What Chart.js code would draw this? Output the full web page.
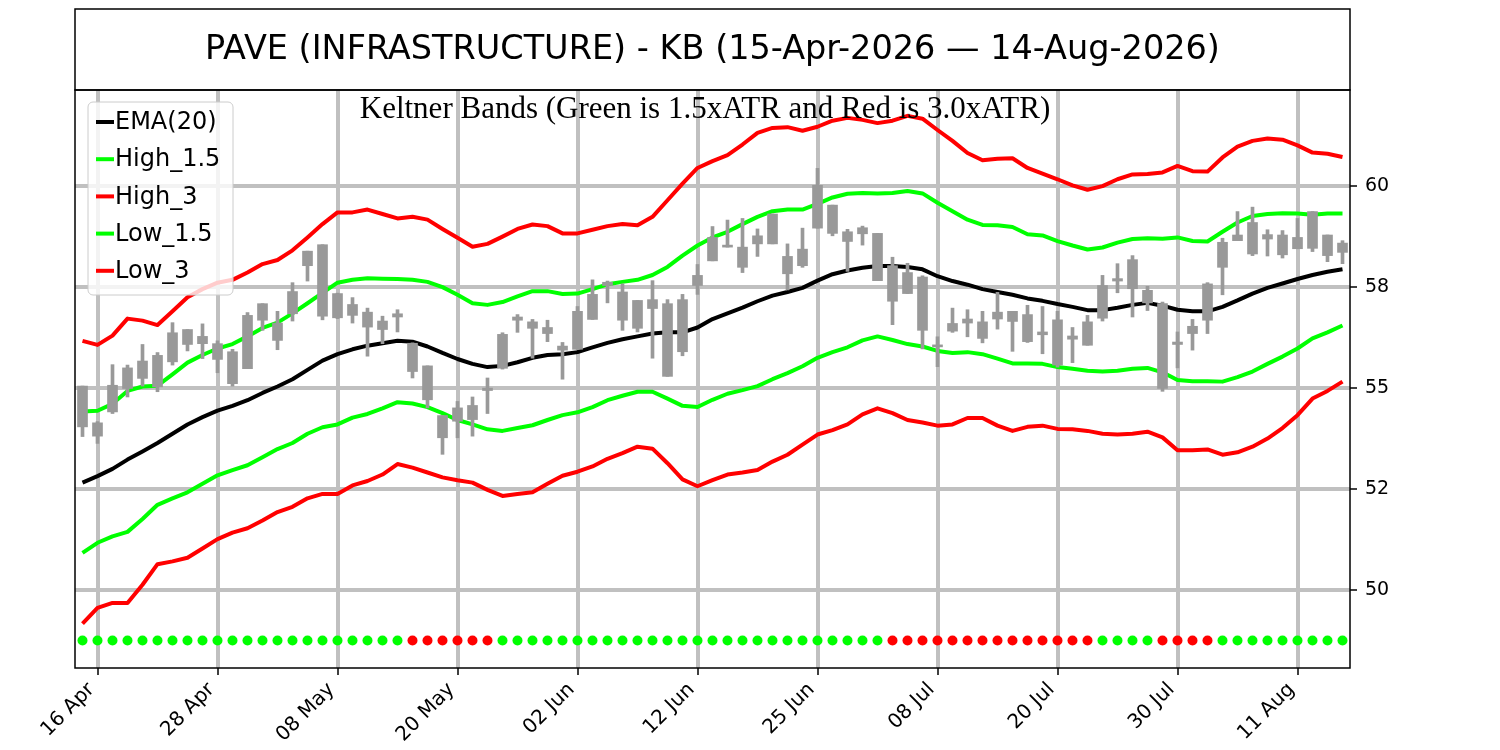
<!DOCTYPE html>
<html>
<head>
<meta charset="utf-8">
<title>PAVE Keltner Bands</title>
<script src="https://cdn.jsdelivr.net/npm/chart.js@4.4.1/dist/chart.umd.min.js"></script>
<style>
  html, body { margin: 0; padding: 0; background: #fff; }
  #wrap { width: 1500px; height: 750px; }
</style>
</head>
<body>
<div id="wrap"><canvas id="kbChart" width="1500" height="750"></canvas></div>
<script>
// trading days, 15 Apr 2026 .. 14 Aug 2026
const dates = [
  '15 Apr', '16 Apr', '17 Apr', '20 Apr', '21 Apr', '22 Apr', '23 Apr', '24 Apr', '27 Apr', '28 Apr', '29 Apr', '30 Apr',
  '01 May', '04 May', '05 May', '06 May', '07 May', '08 May', '11 May', '12 May', '13 May', '14 May', '15 May',
  '18 May', '19 May', '20 May', '21 May', '22 May', '26 May', '27 May', '28 May', '29 May',
  '01 Jun', '02 Jun', '03 Jun', '04 Jun', '05 Jun', '08 Jun', '09 Jun', '10 Jun', '11 Jun', '12 Jun',
  '15 Jun', '16 Jun', '17 Jun', '18 Jun', '22 Jun', '23 Jun', '24 Jun', '25 Jun', '26 Jun', '29 Jun', '30 Jun',
  '01 Jul', '02 Jul', '06 Jul', '07 Jul', '08 Jul', '09 Jul', '10 Jul', '13 Jul', '14 Jul', '15 Jul', '16 Jul', '17 Jul',
  '20 Jul', '21 Jul', '22 Jul', '23 Jul', '24 Jul', '27 Jul', '28 Jul', '29 Jul', '30 Jul', '31 Jul',
  '03 Aug', '04 Aug', '05 Aug', '06 Aug', '07 Aug', '10 Aug', '11 Aug', '12 Aug', '13 Aug', '14 Aug'
];

// candles (all drawn grey, so only the body extent is kept)
const high = [
  55.05, 54.17, 55.58, 55.57, 56.08, 55.88, 56.62, 56.45, 56.59, 56.17, 55.96, 56.87, 57.09, 56.90, 57.61, 58.39, 58.55,
  57.35, 57.24, 56.98, 56.78, 56.94, 56.12, 55.55, 54.32, 54.67, 54.78, 55.25, 56.37, 56.82, 56.70, 56.68, 56.13, 57.02,
  57.68, 57.65, 57.58, 57.17, 57.66, 57.19, 57.32, 58.06, 59.00, 59.16, 59.20, 58.94, 59.31, 58.57, 58.96, 60.44, 59.53,
  58.93, 59.01, 58.83, 58.24, 58.09, 57.78, 56.27, 56.98, 56.94, 56.90, 57.37, 56.90, 57.05, 57.02, 56.90, 56.50, 56.80,
  57.79, 58.08, 58.28, 57.52, 57.13, 56.39, 56.70, 57.61, 58.71, 59.37, 59.48, 58.92, 58.90, 59.20, 59.37, 58.79, 58.65
];
const low = [
  53.80, 53.63, 54.37, 54.78, 55.05, 54.91, 55.57, 55.92, 55.73, 55.38, 55.05, 55.48, 56.43, 55.95, 56.66, 57.65, 56.69,
  56.72, 56.61, 55.79, 56.10, 56.39, 55.25, 54.51, 53.36, 53.77, 53.81, 54.37, 55.47, 56.38, 55.74, 56.15, 55.22, 55.96,
  56.70, 57.11, 56.43, 56.39, 55.74, 55.29, 55.80, 57.32, 58.15, 58.49, 57.86, 58.26, 58.57, 57.43, 57.99, 58.96, 58.77,
  57.89, 58.54, 57.66, 56.57, 57.34, 55.97, 55.53, 56.38, 56.27, 56.12, 56.46, 55.91, 56.13, 55.85, 55.52, 55.63, 56.06,
  56.66, 57.36, 56.76, 56.92, 54.92, 55.50, 55.94, 56.35, 57.31, 58.65, 58.28, 58.27, 58.22, 58.45, 58.38, 58.13, 58.08
];
const bodyTop = [
  55.05, 54.14, 55.07, 55.50, 55.67, 55.81, 56.37, 56.45, 56.28, 56.10, 55.90, 56.80, 57.09, 56.61, 57.39, 58.39, 58.55,
  57.34, 57.07, 56.88, 56.66, 56.84, 56.11, 55.55, 54.32, 54.51, 54.57, 55.00, 56.33, 56.76, 56.64, 56.50, 56.04, 56.90,
  57.32, 57.62, 57.38, 57.17, 57.19, 57.09, 57.19, 57.79, 58.73, 58.54, 58.49, 58.77, 59.31, 58.26, 58.44, 60.02, 59.53,
  58.87, 58.97, 58.83, 58.03, 57.86, 57.75, 56.07, 56.60, 56.71, 56.64, 56.88, 56.90, 56.82, 56.39, 56.69, 56.29, 56.64,
  57.54, 57.71, 58.18, 57.42, 57.09, 56.14, 56.53, 57.58, 58.61, 58.79, 59.10, 58.80, 58.79, 58.73, 59.37, 58.79, 58.59
];
const bodyBottom = [
  54.04, 53.81, 54.41, 54.99, 55.24, 55.03, 55.65, 56.08, 56.10, 55.71, 55.11, 55.48, 56.68, 56.18, 56.84, 58.03, 56.78,
  56.74, 56.80, 56.51, 56.45, 56.76, 55.41, 54.71, 53.77, 54.18, 54.22, 54.94, 55.49, 56.68, 56.48, 56.35, 55.94, 55.96,
  56.70, 57.54, 56.68, 56.48, 56.97, 55.29, 55.90, 57.54, 58.15, 58.49, 57.99, 58.57, 58.57, 57.83, 58.03, 58.96, 58.83,
  58.63, 58.82, 57.66, 57.15, 57.34, 56.43, 56.02, 56.41, 56.61, 56.23, 56.71, 56.65, 56.15, 56.32, 55.57, 56.21, 56.06,
  56.73, 57.65, 57.46, 57.11, 54.99, 56.08, 56.35, 56.68, 57.99, 58.65, 58.32, 58.69, 58.30, 58.45, 58.46, 58.28, 58.36
];

const ema20 = [
  52.66, 52.82, 53.00, 53.23, 53.43, 53.64, 53.87, 54.10, 54.28, 54.44, 54.56, 54.70, 54.88, 55.04, 55.22, 55.45, 55.68,
  55.84, 55.96, 56.05, 56.11, 56.17, 56.15, 56.03, 55.87, 55.72, 55.60, 55.52, 55.55, 55.64, 55.75, 55.82, 55.84, 55.89,
  56.01, 56.12, 56.21, 56.28, 56.35, 56.38, 56.38, 56.50, 56.71, 56.85, 56.99, 57.15, 57.29, 57.38, 57.48, 57.66, 57.82,
  57.91, 57.98, 58.02, 58.02, 58.00, 57.94, 57.77, 57.65, 57.56, 57.45, 57.38, 57.31, 57.22, 57.16, 57.08, 57.01, 56.93,
  56.93, 56.99, 57.06, 57.11, 57.04, 56.94, 56.90, 56.90, 57.01, 57.17, 57.34, 57.48, 57.59, 57.70, 57.80, 57.88, 57.94
];
const high15 = [
  54.42, 54.44, 54.61, 54.93, 55.04, 55.06, 55.34, 55.63, 55.82, 55.98, 56.09, 56.28, 56.49, 56.62, 56.85, 57.10, 57.36,
  57.61, 57.68, 57.72, 57.71, 57.70, 57.68, 57.63, 57.50, 57.31, 57.10, 57.06, 57.13, 57.27, 57.40, 57.40, 57.33, 57.34,
  57.45, 57.57, 57.63, 57.68, 57.80, 58.00, 58.28, 58.53, 58.73, 58.87, 59.06, 59.24, 59.38, 59.42, 59.42, 59.56, 59.72,
  59.81, 59.83, 59.82, 59.83, 59.88, 59.82, 59.59, 59.38, 59.17, 59.04, 59.03, 58.99, 58.81, 58.78, 58.64, 58.53, 58.43,
  58.48, 58.60, 58.69, 58.71, 58.70, 58.73, 58.64, 58.63, 58.87, 59.10, 59.26, 59.31, 59.33, 59.32, 59.29, 59.32, 59.32
];
const high30 = [
  56.17, 56.07, 56.30, 56.72, 56.67, 56.56, 56.90, 57.25, 57.45, 57.61, 57.68, 57.86, 58.07, 58.17, 58.41, 58.73, 59.06,
  59.35, 59.35, 59.42, 59.31, 59.20, 59.24, 59.17, 58.94, 58.72, 58.50, 58.57, 58.75, 58.94, 59.05, 59.01, 58.83, 58.83,
  58.92, 59.01, 59.06, 59.03, 59.24, 59.65, 60.06, 60.45, 60.62, 60.77, 61.03, 61.32, 61.44, 61.46, 61.37, 61.47, 61.62,
  61.69, 61.64, 61.56, 61.62, 61.74, 61.67, 61.39, 61.12, 60.82, 60.64, 60.68, 60.69, 60.45, 60.31, 60.17, 60.02, 59.91,
  60.00, 60.17, 60.29, 60.30, 60.34, 60.50, 60.37, 60.36, 60.71, 60.98, 61.12, 61.18, 61.15, 61.01, 60.83, 60.80, 60.72
];
const low15 = [
  50.92, 51.17, 51.33, 51.44, 51.76, 52.11, 52.27, 52.42, 52.63, 52.84, 52.97, 53.09, 53.29, 53.49, 53.64, 53.87, 54.03,
  54.10, 54.27, 54.36, 54.50, 54.65, 54.62, 54.53, 54.38, 54.21, 54.10, 53.98, 53.94, 54.01, 54.08, 54.21, 54.33, 54.40,
  54.53, 54.70, 54.81, 54.91, 54.91, 54.74, 54.56, 54.53, 54.71, 54.86, 54.95, 55.05, 55.22, 55.37, 55.54, 55.75, 55.89,
  56.01, 56.18, 56.28, 56.19, 56.09, 56.03, 55.92, 55.87, 55.89, 55.84, 55.73, 55.61, 55.61, 55.60, 55.52, 55.48, 55.43,
  55.41, 55.43, 55.48, 55.50, 55.39, 55.20, 55.17, 55.17, 55.16, 55.27, 55.41, 55.60, 55.78, 55.98, 56.23, 56.38, 56.55
];
const low30 = [
  49.17, 49.56, 49.68, 49.68, 50.13, 50.64, 50.71, 50.80, 51.03, 51.26, 51.42, 51.53, 51.72, 51.93, 52.06, 52.27, 52.38,
  52.38, 52.59, 52.70, 52.86, 53.12, 53.03, 52.91, 52.79, 52.72, 52.66, 52.48, 52.33, 52.38, 52.42, 52.63, 52.83, 52.93,
  53.06, 53.25, 53.39, 53.55, 53.50, 53.14, 52.74, 52.57, 52.72, 52.86, 52.91, 52.97, 53.18, 53.35, 53.60, 53.85, 53.96,
  54.10, 54.35, 54.50, 54.38, 54.21, 54.15, 54.07, 54.10, 54.26, 54.26, 54.07, 53.94, 54.04, 54.07, 53.99, 53.98, 53.94,
  53.87, 53.85, 53.87, 53.92, 53.78, 53.46, 53.46, 53.48, 53.35, 53.41, 53.55, 53.75, 54.01, 54.33, 54.74, 54.93, 55.16
];

// squeeze dots along the bottom: G = green, R = red
const squeeze = [
  'G','G','G','G','G','G','G','G','G','G','G','G','G','G','G','G','G','G','G','G','G','G',
  'R','R','R','R','R','R',
  'G','G','G','G','G','G','G','G','G','G','G','G','G','G','G','G','G','G','G','G','G','G','G','G','G','G',
  'R','R','R','R','R','R','R','R','R','R','R','R','R','R',
  'G','G','G','G',
  'R','R','R','R',
  'G','G','G','G','G','G','G','G','G'
];
const dotLevel = 48.75;

const xTickIdx = [1, 9, 17, 25, 33, 41, 49, 57, 65, 73, 81];
const yTickValues = [50, 52.5, 55, 57.5, 60];
const yTickLabels = ['50', '52', '55', '58', '60'];

const titleText = 'PAVE (INFRASTRUCTURE) - KB (15-Apr-2026 \u2014 14-Aug-2026)';
const subtitleText = 'Keltner Bands (Green is 1.5xATR and Red is 3.0xATR)';

const GREEN = '#00ff00';
const RED = '#ff0000';
const CANDLE = '#999999';
const GRID = '#c0c0c0';

function bandLine(label, data, color, order) {
  return {
    type: 'line',
    label: label,
    data: data,
    borderColor: color,
    backgroundColor: color,
    borderWidth: 4,
    borderJoinStyle: 'round',
    pointRadius: 0,
    tension: 0,
    fill: false,
    order: order,
    inLegend: true
  };
}

// frame, title box, subtitle and the legend inside the plot
const decorations = {
  id: 'decorations',
  afterDatasetsDraw(chart) {
    const { ctx, chartArea: a } = chart;
    ctx.save();
    ctx.strokeStyle = '#000';
    ctx.lineWidth = 1.5;
    ctx.strokeRect(a.left, a.top, a.right - a.left, a.bottom - a.top);
    ctx.strokeRect(a.left, 9, a.right - a.left, a.top - 9);

    ctx.fillStyle = '#000';
    ctx.textAlign = 'center';
    ctx.textBaseline = 'middle';
    ctx.font = '33.5px "DejaVu Sans"';
    ctx.fillText(titleText, (a.left + a.right) / 2, 50);

    ctx.textBaseline = 'alphabetic';
    ctx.font = '31px "Liberation Serif"';
    ctx.fillText(subtitleText, 705, 118);

    // legend
    const items = chart.data.datasets.filter(d => d.inLegend);
    ctx.beginPath();
    ctx.roundRect(88, 102, 145, 193, 5);
    ctx.fillStyle = 'rgba(255,255,255,0.8)';
    ctx.fill();
    ctx.strokeStyle = '#cccccc';
    ctx.lineWidth = 1;
    ctx.stroke();

    ctx.font = '24px "DejaVu Sans"';
    ctx.textAlign = 'left';
    ctx.textBaseline = 'middle';
    items.forEach((d, k) => {
      const y = 122 + k * 37.2;
      ctx.strokeStyle = d.borderColor;
      ctx.lineWidth = 4;
      ctx.beginPath();
      ctx.moveTo(96, y);
      ctx.lineTo(114, y);
      ctx.stroke();
      ctx.fillStyle = '#000';
      ctx.fillText(d.label, 115, y + 1);
    });
    ctx.restore();
  }
};

const ctx = document.getElementById('kbChart').getContext('2d');
const kbChart = new Chart(ctx, {
  type: 'bar',
  data: {
    labels: dates,
    datasets: [
      {
        label: 'body',
        data: bodyBottom.map((b, i) => [b, bodyTop[i]]),
        backgroundColor: CANDLE,
        borderWidth: 0,
        barThickness: 10,
        grouped: false,
        order: 0
      },
      {
        label: 'wick',
        data: low.map((l, i) => [l, high[i]]),
        backgroundColor: CANDLE,
        borderWidth: 0,
        barThickness: 3,
        grouped: false,
        order: 1
      },
      bandLine('EMA(20)', ema20, '#000000', 2),
      bandLine('High_1.5', high15, GREEN, 3),
      bandLine('High_3', high30, RED, 4),
      bandLine('Low_1.5', low15, GREEN, 5),
      bandLine('Low_3', low30, RED, 6),
      {
        type: 'line',
        label: 'squeeze',
        data: squeeze.map(() => dotLevel),
        showLine: false,
        pointRadius: 5,
        pointBorderWidth: 0,
        pointBackgroundColor: squeeze.map(s => (s === 'R' ? RED : GREEN)),
        order: 7
      }
    ]
  },
  options: {
    responsive: false,
    devicePixelRatio: 1,
    animation: false,
    layout: { padding: { left: 75, top: 90, right: 0, bottom: 0 } },
    plugins: {
      legend: { display: false },
      tooltip: { enabled: false }
    },
    scales: {
      x: {
        type: 'category',
        offset: true,
        afterBuildTicks: (scale) => { scale.ticks = xTickIdx.map(i => ({ value: i })); },
        afterFit: (scale) => { scale.height = 82; },
        ticks: {
          autoSkip: false,
          minRotation: 45,
          maxRotation: 45,
          labelOffset: -6,
          color: '#000',
          padding: 3,
          font: { family: 'DejaVu Sans', size: 20 }
        },
        grid: { offset: false, color: GRID, lineWidth: 4, tickColor: '#000', tickLength: 7, tickWidth: 1.5 },
        border: { display: false }
      },
      y: {
        position: 'right',
        min: 48.07,
        max: 62.38,
        afterBuildTicks: (scale) => { scale.ticks = yTickValues.map(v => ({ value: v })); },
        afterFit: (scale) => { scale.width = 150; },
        ticks: {
          callback: (v) => yTickLabels[yTickValues.indexOf(v)],
          color: '#000',
          padding: 8,
          font: { family: 'DejaVu Sans', size: 19 }
        },
        grid: { color: GRID, lineWidth: 4, tickColor: '#000', tickLength: 7, tickWidth: 1.5 },
        border: { display: false }
      }
    }
  },
  plugins: [decorations]
});
</script>
</body>
</html>
